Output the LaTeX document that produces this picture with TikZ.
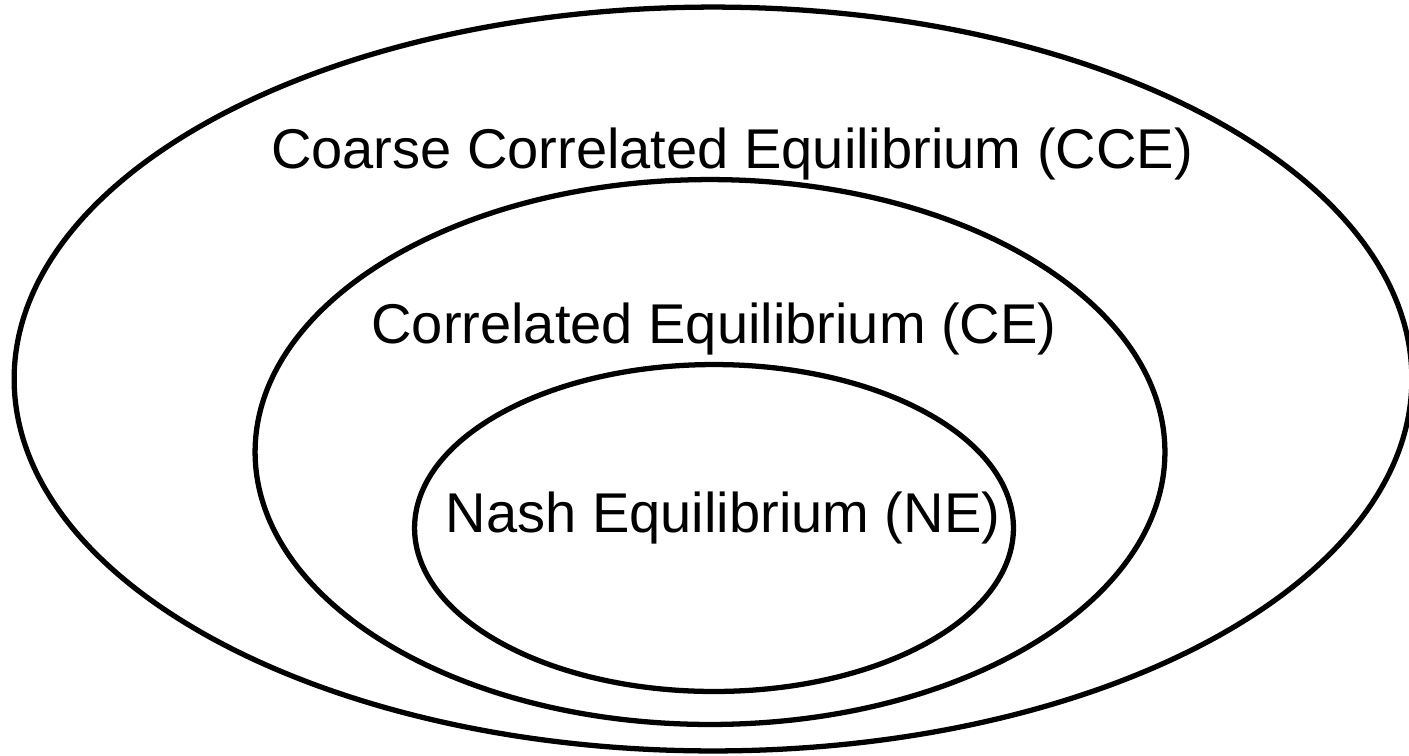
\documentclass[tikz,border=0pt]{standalone}
\usepackage{fontspec}
\setmainfont{Liberation Sans}
\usetikzlibrary{shapes.geometric, positioning}

\begin{document}
\begin{tikzpicture}[
        x=0.02cm, y=-0.02cm,
        set/.style={draw=black, line width=3pt, ellipse, inner sep=0pt},
        lbl/.style={anchor=base, inner sep=0pt, font=\fontsize{31.9}{38}\selectfont}
    ]
        \useasboundingbox (0,0) rectangle (1409,755);
        \node[set, minimum width=27.96cm, minimum height=14.88cm] (cce) at (713,379) {};
        \node[set, minimum width=18.2cm, minimum height=10.9cm] (ce) at (710,452) {};
        \node[set, minimum width=11.98cm, minimum height=6.54cm] (ne) at (714,528) {};
        \node[lbl] (cceText) at (732,168) {Coarse Correlated Equilibrium (CCE)};
        \node[lbl] (ceText) at (714,343) {Correlated Equilibrium (CE)};
        \node[lbl] (neText) at (723,532) {Nash Equilibrium (NE)};
    \end{tikzpicture}
\end{document}
